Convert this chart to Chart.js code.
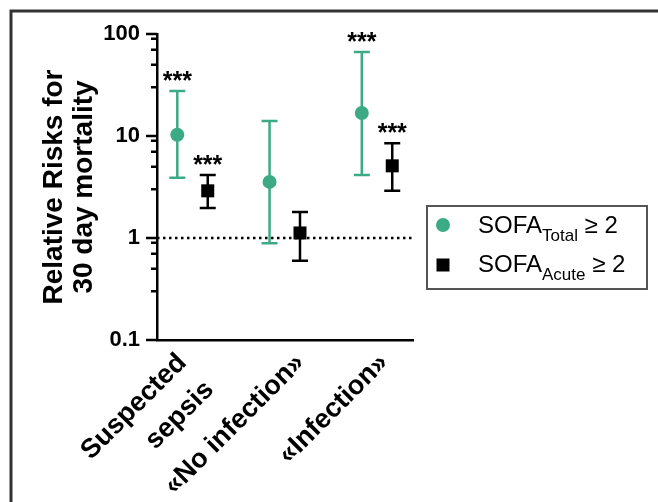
<!DOCTYPE html>
<html>
<head>
<meta charset="utf-8">
<script src="https://cdn.jsdelivr.net/npm/chart.js@4"></script>
<style>
  body { margin: 0; background: #fff; }
  #wrap { position: relative; width: 658px; height: 502px; }
</style>
</head>
<body>
<div id="wrap"><canvas id="rrChart" width="658" height="502"></canvas></div>
<script>
// Categories and relative risks (point, lower CI, upper CI)
const categories = [['Suspected', 'sepsis'], '«No infection»', '«Infection»'];
const totalRR   = [10.3, 3.55, 16.8];
const totalLow  = [3.9, 0.89, 4.15];
const totalHigh = [27.6, 14.0, 66.6];
const totalSig  = ['***', '', '***'];
const acuteRR   = [2.9, 1.12, 5.1];
const acuteLow  = [1.97, 0.6, 2.9];
const acuteHigh = [4.15, 1.8, 8.5];
const acuteSig  = ['***', '', '***'];
const yTickValues = [0.1, 1, 10, 100];
const yTickLabels = ['0.1', '1', '10', '100'];
const minorSteps = [3, 5, 7, 9];
const refValue = 1;

const green = '#3daa86';
const xMin = -0.385, xMax = 2.39;
const pairShift = 0.165; // half distance between the two markers of a group
const labelNudge = [-0.11, 0.17, 0.076]; // where the rotated label ends, relative to the group

Chart.defaults.font.family = '"Liberation Sans", Arial, sans-serif';
Chart.defaults.color = '#000';

function toPoints(values, shift) {
    return values.map((v, i) => ({ x: i + shift, y: v }));
}

// error bars + significance stars, drawn from the scales
const errorBars = {
    id: 'errorBars',
    beforeDatasetsDraw(chart) {
        const { ctx, scales: { y } } = chart;
        chart.data.datasets.forEach((ds, di) => {
            if (!ds.low) return;
            const meta = chart.getDatasetMeta(di);
            ctx.save();
            ctx.strokeStyle = ds.backgroundColor;
            ctx.lineWidth = 2.5;
            meta.data.forEach((pt, i) => {
                const yl = y.getPixelForValue(ds.low[i]);
                const yh = y.getPixelForValue(ds.high[i]);
                ctx.beginPath();
                ctx.moveTo(pt.x, yl); ctx.lineTo(pt.x, yh);
                ctx.moveTo(pt.x - 8, yl); ctx.lineTo(pt.x + 8, yl);
                ctx.moveTo(pt.x - 8, yh); ctx.lineTo(pt.x + 8, yh);
                ctx.stroke();
            });
            ctx.restore();
        });
    },
    afterDatasetsDraw(chart) {
        const { ctx, scales: { y } } = chart;
        ctx.save();
        ctx.fillStyle = '#000';
        ctx.font = 'bold 25px "Liberation Sans", Arial, sans-serif';
        ctx.textAlign = 'center';
        ctx.textBaseline = 'alphabetic';
        chart.data.datasets.forEach((ds, di) => {
            if (!ds.sig) return;
            const meta = chart.getDatasetMeta(di);
            meta.data.forEach((pt, i) => {
                if (!ds.sig[i]) return;
                ctx.fillText(ds.sig[i], pt.x, y.getPixelForValue(ds.high[i]) - 2);
            });
        });
        ctx.restore();
    }
};

// y-axis tick marks (major and minor), legend and frame
const decorations = {
    id: 'decorations',
    afterDraw(chart) {
        const { ctx, chartArea, scales: { y } } = chart;
        ctx.save();
        ctx.strokeStyle = '#000';
        ctx.lineWidth = 2.5;
        ctx.beginPath();
        yTickValues.forEach(v => {
            const py = y.getPixelForValue(v);
            ctx.moveTo(chartArea.left - 11, py); ctx.lineTo(chartArea.left, py);
        });
        yTickValues.slice(0, -1).forEach(d => {
            minorSteps.forEach(m => {
                const py = y.getPixelForValue(d * m);
                ctx.moveTo(chartArea.left - 6, py); ctx.lineTo(chartArea.left, py);
            });
        });
        ctx.stroke();

        // legend
        ctx.strokeStyle = '#555';
        ctx.lineWidth = 2;
        ctx.strokeRect(427, 206, 220, 83);
        ctx.fillStyle = green;
        ctx.beginPath();
        ctx.arc(443, 225, 7, 0, Math.PI * 2);
        ctx.fill();
        ctx.fillStyle = '#000';
        ctx.fillRect(436.5, 258.5, 13, 13);
        const rows = [['Total', 233], ['Acute', 272]];
        rows.forEach(([sub, base]) => {
            ctx.textAlign = 'left';
            ctx.textBaseline = 'alphabetic';
            ctx.font = '24px "Liberation Sans", Arial, sans-serif';
            let x = 478;
            ctx.fillText('SOFA', x, base);
            x += ctx.measureText('SOFA').width;
            ctx.font = '17px "Liberation Sans", Arial, sans-serif';
            ctx.fillText(sub, x, base + 8);
            x += ctx.measureText(sub).width;
            ctx.font = '24px "Liberation Sans", Arial, sans-serif';
            ctx.fillText(' \u2265 2', x, base);
        });

        // frame
        ctx.strokeStyle = '#333';
        ctx.lineWidth = 3;
        ctx.beginPath();
        ctx.moveTo(11, 502); ctx.lineTo(11, 11); ctx.lineTo(658, 11);
        ctx.stroke();
        ctx.restore();
    }
};

const ctx = document.getElementById('rrChart').getContext('2d');
new Chart(ctx, {
    data: {
        datasets: [
            {
                type: 'line',
                data: [{ x: xMin, y: refValue }, { x: xMax, y: refValue }],
                borderColor: '#000',
                borderWidth: 2.5,
                borderDash: [2.5, 3.5],
                pointRadius: 0
            },
            {
                type: 'scatter',
                label: 'SOFA Total ≥ 2',
                data: toPoints(totalRR, -pairShift),
                low: totalLow, high: totalHigh, sig: totalSig,
                backgroundColor: green,
                borderWidth: 0,
                pointStyle: 'circle',
                pointRadius: 7
            },
            {
                type: 'scatter',
                label: 'SOFA Acute ≥ 2',
                data: toPoints(acuteRR, pairShift),
                low: acuteLow, high: acuteHigh, sig: acuteSig,
                backgroundColor: '#000',
                borderWidth: 0,
                pointStyle: 'rect',
                pointRadius: 9.2
            }
        ]
    },
    options: {
        responsive: false,
        animation: false,
        layout: { padding: { top: 34, right: 245, bottom: 0, left: 0 } },
        plugins: { legend: { display: false }, tooltip: { enabled: false } },
        scales: {
            x: {
                type: 'linear',
                min: xMin,
                max: xMax,
                afterBuildTicks: (scale) => { scale.ticks = categories.map((c, i) => ({ value: i + labelNudge[i] })); },
                afterFit: (scale) => { scale.height = 162; },
                grid: { display: false, drawTicks: false },
                border: { display: true, color: '#000', width: 2.5 },
                ticks: {
                    autoSkip: false,
                    minRotation: 45,
                    maxRotation: 45,
                    padding: 5,
                    color: '#000',
                    font: { size: 27, weight: 'bold', lineHeight: 1.42 },
                    callback: (value) => categories[Math.round(value)]
                }
            },
            y: {
                type: 'logarithmic',
                min: 0.1,
                max: 100,
                afterBuildTicks: (scale) => { scale.ticks = yTickValues.map(v => ({ value: v, major: true })); },
                afterFit: (scale) => { scale.width = 157; },
                grid: { display: false, drawTicks: false },
                border: { display: true, color: '#000', width: 2.5 },
                ticks: {
                    padding: 17,
                    color: '#000',
                    font: { size: 22, weight: 'bold' },
                    callback: (value, index) => yTickLabels[index]
                },
                title: {
                    display: true,
                    text: ['Relative Risks for', '30 day mortality'],
                    color: '#000',
                    padding: { top: 40 },
                    font: { size: 28, weight: 'bold', lineHeight: 1.05 }
                }
            }
        }
    },
    plugins: [errorBars, decorations]
});
</script>
</body>
</html>
